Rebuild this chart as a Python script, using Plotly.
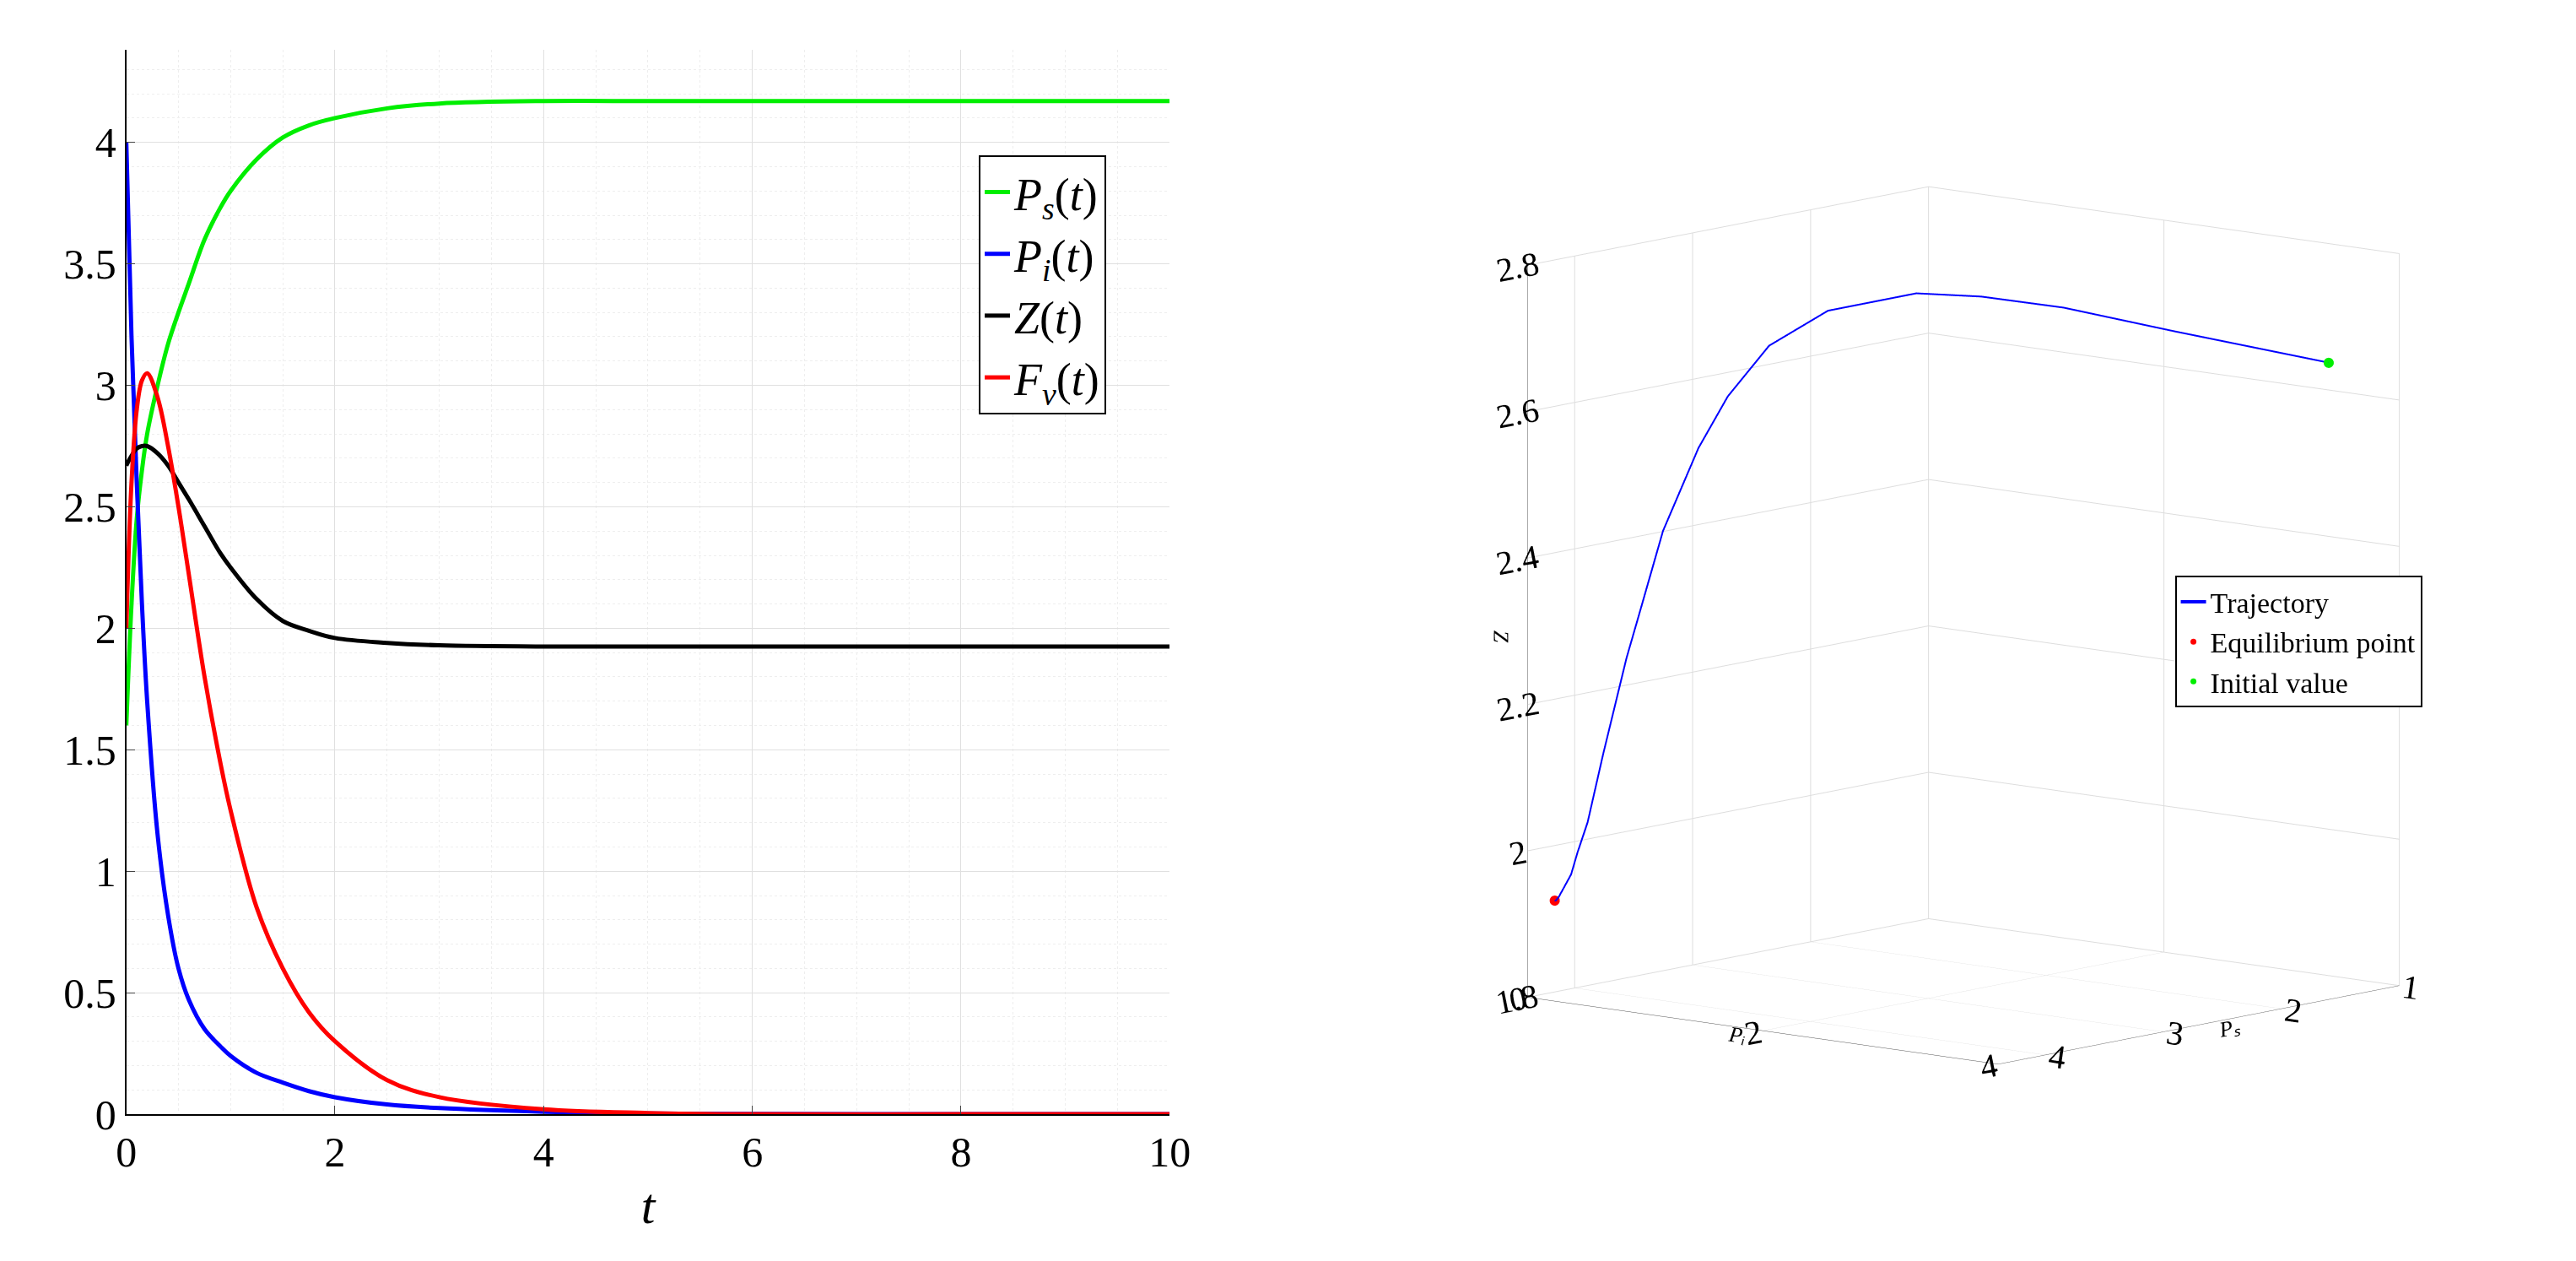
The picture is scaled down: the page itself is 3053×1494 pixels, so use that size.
import plotly.graph_objects as go

t = [0, 0.05, 0.1, 0.15, 0.2, 0.3, 0.4, 0.5, 0.6, 0.75, 0.9, 1, 1.25, 1.5, 1.75, 2, 2.5, 3, 4, 5, 6, 8, 10]
Ps = [1.6, 2.1, 2.45, 2.65, 2.8, 3.0, 3.17, 3.3, 3.42, 3.6, 3.73, 3.8, 3.93, 4.02, 4.07, 4.1, 4.14, 4.16, 4.17, 4.17, 4.17, 4.17, 4.17]
Pi = [4.0, 3.2, 2.6, 2.1, 1.7, 1.15, 0.82, 0.6, 0.47, 0.35, 0.28, 0.24, 0.17, 0.13, 0.095, 0.07, 0.04, 0.025, 0.01, 0.003, 0.001, 0, 0]
Z = [2.67, 2.71, 2.74, 2.75, 2.75, 2.72, 2.67, 2.6, 2.53, 2.42, 2.31, 2.25, 2.12, 2.03, 1.99, 1.96, 1.94, 1.93, 1.925, 1.925, 1.925, 1.925, 1.925]
Fv = [2.0, 2.6, 2.9, 3.02, 3.05, 2.95, 2.75, 2.5, 2.22, 1.8, 1.45, 1.25, 0.85, 0.6, 0.42, 0.3, 0.14, 0.07, 0.02, 0.005, 0.0, 0.0, 0.0]

SERIF = "Liberation Serif"
fig = go.Figure()
for y, c, n in [(Ps, "#00ee00", "<i>P<sub>s</sub></i>(<i>t</i>)"),
                (Pi, "#0000ff", "<i>P<sub>i</sub></i>(<i>t</i>)"),
                (Z, "#000000", "<i>Z</i>(<i>t</i>)"),
                (Fv, "#ff0000", "<i>F<sub>v</sub></i>(<i>t</i>)")]:
    fig.add_trace(go.Scatter(x=t, y=y, mode="lines", name=n, line=dict(color=c, width=5, shape="spline"),
                             legend="legend"))

fig.add_trace(go.Scatter3d(x=Ps, y=Pi, z=Z, mode="lines", name="Trajectory",
                           line=dict(color="#0000ff", width=4), legend="legend2"))
fig.add_trace(go.Scatter3d(x=[Ps[-1]], y=[Pi[-1]], z=[Z[-1]], mode="markers", name="Equilibrium point",
                           marker=dict(color="#ff0000", size=7), legend="legend2"))
fig.add_trace(go.Scatter3d(x=[Ps[0]], y=[Pi[0]], z=[Z[0]], mode="markers", name="Initial value",
                           marker=dict(color="#00ee00", size=7), legend="legend2"))

ax3 = dict(showbackground=False, gridcolor="#dddddd", linecolor="#555555", showline=True,
           tickfont=dict(family=SERIF, size=22), zeroline=False)
fig.update_layout(
    width=3053, height=1494, paper_bgcolor="white", plot_bgcolor="white",
    font=dict(family=SERIF, color="black"),
    margin=dict(l=0, r=0, t=0, b=0),
    xaxis=dict(domain=[0.043, 0.453], range=[0, 10], tickvals=[0, 2, 4, 6, 8, 10],
               title=dict(text="<i>t</i>", font=dict(size=60)), tickfont=dict(size=50),
               showline=True, linecolor="black", linewidth=2, ticks="inside", ticklen=10,
               gridcolor="#e0e0e0", zeroline=False,
               minor=dict(showgrid=True, gridcolor="#eeeeee", griddash="dot", dtick=0.5)),
    yaxis=dict(domain=[0.105, 0.965], range=[0, 4.38], dtick=0.5, tickfont=dict(size=50),
               showline=True, linecolor="black", linewidth=2, ticks="inside", ticklen=10,
               gridcolor="#e0e0e0", zeroline=False,
               minor=dict(showgrid=True, gridcolor="#eeeeee", griddash="dot", dtick=0.1)),
    legend=dict(x=0.378, y=0.88, xanchor="left", yanchor="top", bgcolor="white",
                bordercolor="black", borderwidth=2, font=dict(size=54)),
    legend2=dict(x=0.848, y=0.54, xanchor="left", yanchor="top", bgcolor="white",
                 bordercolor="black", borderwidth=2, font=dict(size=34)),
    scene=dict(domain=dict(x=[0.53, 1.0], y=[0.0, 1.0]),
               xaxis=dict(ax3, range=[1, 4.4], tickvals=[1, 2, 3, 4],
                          title=dict(text="<i>Pₛ</i>", font=dict(size=26))),
               yaxis=dict(ax3, range=[0, 4], tickvals=[0, 2, 4],
                          title=dict(text="<i>Pᵢ</i>", font=dict(size=26))),
               zaxis=dict(ax3, range=[1.8, 2.8], dtick=0.2,
                          title=dict(text="<i>Z</i>", font=dict(size=26))),
               aspectmode="manual", aspectratio=dict(x=1, y=1, z=1.2),
               camera=dict(eye=dict(x=1.35, y=1.15, z=0.3), projection=dict(type="orthographic"))),
)
fig.write_html("out.html")
